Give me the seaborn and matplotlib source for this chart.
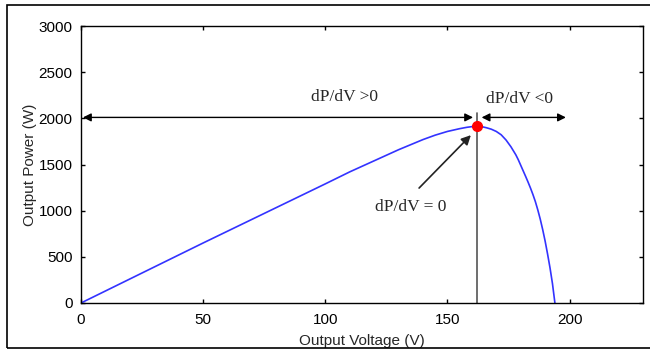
import matplotlib
matplotlib.use("Agg")
import matplotlib.pyplot as plt
import seaborn as sns
import pandas as pd
from matplotlib.patches import Rectangle

voltage = [0, 25, 50, 75, 100, 110, 120, 130, 140, 145, 150, 155, 158, 160, 162, 164, 166,
           168, 170, 172, 174, 176, 178, 179, 180, 181, 182, 183, 184, 185, 186, 187, 188,
           189, 190, 191, 192, 193, 194]
power = [0, 325, 650, 970, 1290, 1420, 1540, 1660, 1770, 1818, 1858, 1888, 1903, 1910, 1915, 1910, 1898,
         1882, 1858, 1822, 1765, 1692, 1605, 1552, 1492, 1432, 1372, 1310, 1245, 1175, 1098, 1008, 908,
         795, 670, 530, 380, 210, 0]
mpp_v = 162
mpp_p = 1915
x_ticks = [0, 50, 100, 150, 200]
y_ticks = [0, 500, 1000, 1500, 2000, 2500, 3000]

sns.set_style("ticks")
plt.rcParams['font.family'] = ['Liberation Sans', 'DejaVu Sans']

df = pd.DataFrame({"Output Voltage (V)": voltage, "Output Power (W)": power})

fig = plt.figure(figsize=(6.5, 3.5), dpi=100)
ax = fig.add_axes([0.1246, 0.1343, 0.8644, 0.7914])

# outer frame
fig.patches.append(Rectangle((7/650, 2/350), 1.2, 343/350, transform=fig.transFigure,
                             fill=False, edgecolor='black', linewidth=1.2))

sns.lineplot(data=df, x="Output Voltage (V)", y="Output Power (W)", ax=ax,
             color='#3333ff', linewidth=1.2, sort=False)
ax.plot([mpp_v], [mpp_p], 'o', color='red', markersize=7, zorder=5)

ax.set_xlim(0, 230)
ax.set_ylim(0, 3000)
ax.set_xticks(x_ticks)
ax.set_yticks(y_ticks)
ax.tick_params(direction='in', length=3, width=1, top=True, right=True,
               labelsize=11, colors='black')
ax.tick_params(axis='x', pad=7)
ax.tick_params(axis='y', pad=6)
for s in ax.spines.values():
    s.set_visible(True)
    s.set_linewidth(1)
    s.set_color('black')
ax.set_xlabel("Output Voltage (V)", fontsize=11, labelpad=5)
ax.set_ylabel("Output Power (W)", fontsize=11, labelpad=1)

# vertical line at MPP
ax.plot([mpp_v, mpp_v], [0, 2060], color='#555555', linewidth=1.2)

serif = ['Liberation Serif', 'DejaVu Serif']
# left double arrow
ax.annotate('', xy=(0.8, 2010), xytext=(160.5, 2010),
            arrowprops=dict(arrowstyle='<|-|>', color='black', lw=1,
                            mutation_scale=12, shrinkA=0, shrinkB=0))
# right double arrow
ax.annotate('', xy=(164, 2010), xytext=(198.5, 2010),
            arrowprops=dict(arrowstyle='<|-|>', color='black', lw=1,
                            mutation_scale=12, shrinkA=0, shrinkB=0))
ax.text(108, 2229, 'dP/dV >0', family=serif, fontsize=12.5, ha='center', va='center')
ax.text(179.6, 2208, 'dP/dV <0', family=serif, fontsize=12.5, ha='center', va='center')
ax.text(135, 1039, 'dP/dV = 0', family=serif, fontsize=12.5, ha='center', va='center')
ax.annotate('', xy=(159.6, 1818), xytext=(138.4, 1245),
            arrowprops=dict(arrowstyle='-|>', color='#222222', lw=1.2,
                            mutation_scale=14, shrinkA=0, shrinkB=0))

fig.savefig("out.png", dpi=100)
